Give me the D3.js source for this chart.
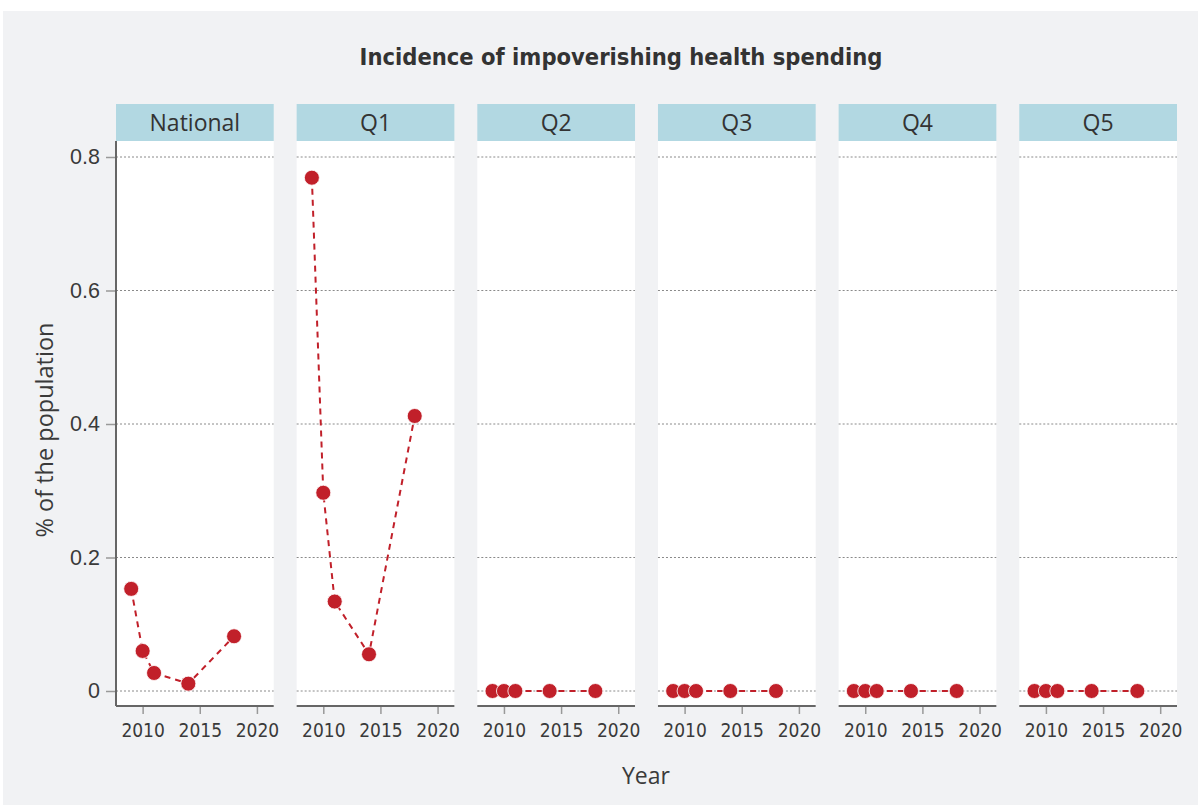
<!doctype html>
<html>
<head>
  <meta charset="UTF-8" />
  <title>Incidence of impoverishing health spending</title>
  <style>
    html, body { margin: 0; padding: 0; background: #fff; }
    svg { display: block; font-family: "Open Sans", "Noto Sans", sans-serif; }
    .cond { font-family: "DejaVu Sans Condensed", "Liberation Sans Narrow", sans-serif; }
  </style>
</head>
<body>
  <script src="https://cdn.jsdelivr.net/npm/d3@7"></script>
  <script>
    // data
    const panels = ['National', 'Q1', 'Q2', 'Q3', 'Q4', 'Q5'];
    const years = [2009, 2010, 2011, 2014, 2018];
    const national = [0.153, 0.060, 0.027, 0.011, 0.082];
    const q1 = [0.769, 0.297, 0.134, 0.055, 0.412];
    const q2 = [0, 0, 0, 0, 0];
    const q3 = [0, 0, 0, 0, 0];
    const q4 = [0, 0, 0, 0, 0];
    const q5 = [0, 0, 0, 0, 0];
    const seriesValues = [national, q1, q2, q3, q4, q5];
    const yTicks = [0, 0.2, 0.4, 0.6, 0.8];
    const yTickLabels = ['0', '0.2', '0.4', '0.6', '0.8'];
    const xTicks = [2010, 2015, 2020];

    const width = 1198, height = 805;
    const red = '#c1202a';

    const svg = d3.select('body').append('svg')
      .attr('width', width)
      .attr('height', height);

    svg.append('rect')
      .attr('x', 3).attr('y', 11)
      .attr('width', width - 3).attr('height', height - 11)
      .attr('fill', '#f1f2f4');

    svg.append('text')
      .attr('class', 'cond')
      .attr('x', 621).attr('y', 65)
      .attr('text-anchor', 'middle')
      .attr('font-weight', 'bold')
      .attr('font-size', 23.5)
      .attr('fill', '#333')
      .text('Incidence of impoverishing health spending');

    // layout
    const plotTop = 141, plotBottom = 706, stripH = 37;
    const band = d3.scaleBand()
      .domain(panels)
      .range([116, 1177])
      .paddingInner(0.127);

    const y = d3.scaleLinear()
      .domain([0, 0.8])
      .range([691, 157]);

    const x = d3.scaleLinear()
      .domain([2007.67, 2021.47])
      .range([0, band.bandwidth()]);

    panels.forEach((name, i) => {
      const g = svg.append('g')
        .attr('transform', `translate(${band(name)},0)`);
      const w = band.bandwidth();

      g.append('rect')
        .attr('x', 0).attr('y', plotTop)
        .attr('width', w).attr('height', plotBottom - plotTop)
        .attr('fill', '#fff');

      g.append('rect')
        .attr('x', 0).attr('y', plotTop - stripH)
        .attr('width', w).attr('height', stripH)
        .attr('fill', '#b2d8e2');

      g.append('text')
        .attr('x', w / 2).attr('y', plotTop - stripH / 2)
        .attr('dy', '0.36em')
        .attr('text-anchor', 'middle')
        .attr('font-size', 23)
        .attr('fill', '#333')
        .text(name);

      // grid
      g.selectAll('line.grid')
        .data(yTicks)
        .join('line')
        .attr('class', 'grid')
        .attr('x1', 0).attr('x2', w)
        .attr('y1', d => y(d)).attr('y2', d => y(d))
        .attr('stroke', '#8a8a8a')
        .attr('stroke-width', 1)
        .attr('stroke-dasharray', '2,2');

      // x axis
      const xAxis = g.append('g')
        .attr('transform', `translate(0,${plotBottom})`)
        .call(d3.axisBottom(x).tickValues(xTicks).tickFormat(d3.format('d')).tickSize(8).tickPadding(10));
      xAxis.select('.domain').remove();
      xAxis.selectAll('line').attr('stroke', '#999').attr('stroke-width', 1.5);
      xAxis.selectAll('text')
        .attr('class', 'cond')
        .attr('font-size', 19)
        .attr('fill', '#3a3a3a');
      g.append('line')
        .attr('x1', 0).attr('x2', w)
        .attr('y1', plotBottom).attr('y2', plotBottom)
        .attr('stroke', '#666').attr('stroke-width', 2);

      // series
      const pts = years.map((yr, j) => [yr, seriesValues[i][j]]);
      g.append('path')
        .datum(pts)
        .attr('fill', 'none')
        .attr('stroke', red)
        .attr('stroke-width', 2)
        .attr('stroke-dasharray', '6,5')
        .attr('d', d3.line().x(d => x(d[0])).y(d => y(d[1])));

      g.selectAll('circle')
        .data(pts)
        .join('circle')
        .attr('cx', d => x(d[0]))
        .attr('cy', d => y(d[1]))
        .attr('r', 7.5)
        .attr('fill', red)
        .attr('stroke', '#fff')
        .attr('stroke-width', 0.8);

      if (i === 0) {
        const yAxis = g.append('g')
          .call(d3.axisLeft(y).tickValues(yTicks).tickFormat((d, k) => yTickLabels[k]).tickSize(10).tickPadding(6));
        yAxis.select('.domain').remove();
        yAxis.selectAll('line').attr('stroke', '#999').attr('stroke-width', 1.5);
        yAxis.selectAll('text').attr('font-size', 21.5).attr('fill', '#3a3a3a');
        g.append('line')
          .attr('x1', 0).attr('x2', 0)
          .attr('y1', plotTop).attr('y2', plotBottom)
          .attr('stroke', '#666').attr('stroke-width', 2);
      }
    });

    svg.append('text')
      .attr('transform', 'translate(53,430) rotate(-90)')
      .attr('text-anchor', 'middle')
      .attr('font-size', 23.5)
      .attr('fill', '#3a3a3a')
      .text('% of the population');

    svg.append('text')
      .attr('x', 646).attr('y', 784)
      .attr('text-anchor', 'middle')
      .attr('font-size', 23)
      .attr('fill', '#3a3a3a')
      .text('Year');
  </script>
</body>
</html>
